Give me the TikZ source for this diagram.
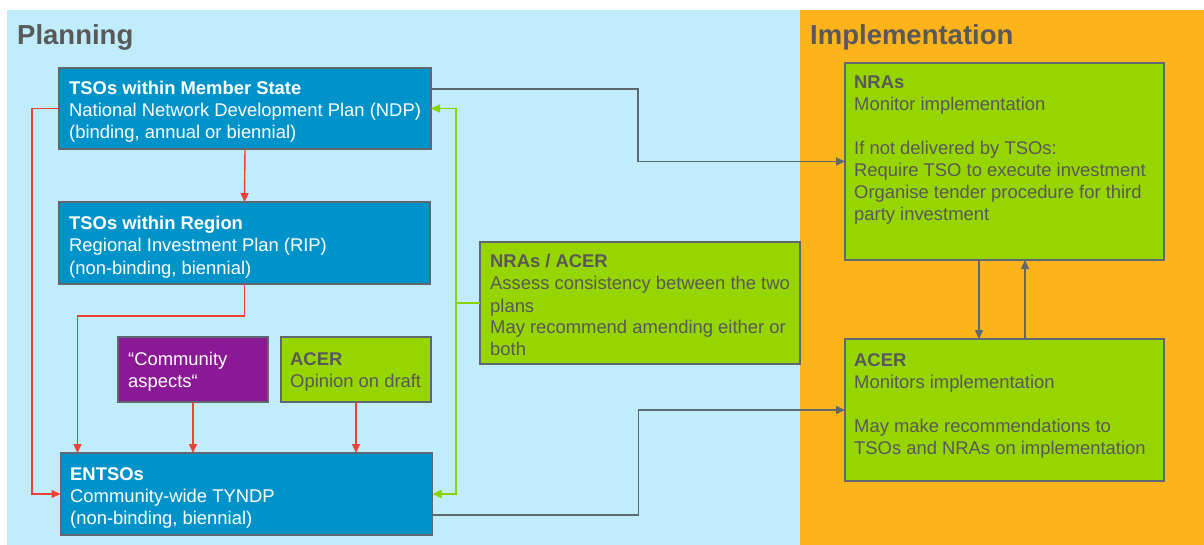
\documentclass[tikz,border=0pt]{standalone}
\usepackage{fontspec}
\setmainfont{Liberation Sans}
\usetikzlibrary{arrows.meta,calc}
\definecolor{bgblue}{HTML}{C0ECFC}
\definecolor{bgorange}{HTML}{FDB41B}
\definecolor{boxblue}{HTML}{0093C9}
\definecolor{boxgreen}{HTML}{96D500}
\definecolor{boxpurple}{HTML}{8B1996}
\definecolor{linered}{HTML}{EE4035}
\definecolor{linegreen}{HTML}{8CD200}
\definecolor{linegray}{HTML}{5E6870}
\definecolor{txtgray}{HTML}{595959}
\definecolor{bordergray}{HTML}{5F6770}
\newcommand{\boxtxt}[1]{\parbox[t]{400pt}{\raggedright #1}}
\begin{document}
\begin{tikzpicture}[x=1pt,y=-1pt,
  panel/.style={draw=bordergray, line width=1.5pt, inner sep=0pt, outer sep=0pt, rectangle},
  bluebox/.style={panel, fill=boxblue},
  greenbox/.style={panel, fill=boxgreen},
  purplebox/.style={panel, fill=boxpurple},
  txt/.style={anchor=base west, inner sep=0pt, font=\fontsize{18.4}{22}\selectfont},
  txtw/.style={txt, text=white},
  txtg/.style={txt, text=txtgray},
  title/.style={anchor=base west, inner sep=0pt, text=txtgray, font=\fontsize{27.5}{32}\selectfont\bfseries},
  redarr/.style={draw=linered, line width=1.4pt, -{Triangle[length=9pt,width=8pt]}},
  greenarr/.style={draw=linegreen, line width=1.6pt, -{Triangle[length=9pt,width=8pt]}},
  grayarr/.style={draw=linegray, line width=1.6pt, -{Triangle[length=9pt,width=8pt]}}
]
\useasboundingbox (0,0) rectangle (1204,545);
\fill[white] (0,0) rectangle (1204,545);
\fill[bgblue] (7,10) rectangle (800,545);
\fill[bgorange] (800,10) rectangle (1204,545);

\node[title] (tplan) at (17,45) {Planning};
\node[title] (timpl) at (810,45) {Implementation};

% boxes
\node[bluebox, minimum width=372pt, minimum height=81pt] (ms) at (245,108.5) {};
\node[bluebox, minimum width=371pt, minimum height=82pt] (reg) at (244.5,243) {};
\node[bluebox, minimum width=372pt, minimum height=82pt] (ent) at (246.5,494) {};
\node[purplebox, minimum width=150pt, minimum height=65pt] (ca) at (193,369.5) {};
\node[greenbox, minimum width=150pt, minimum height=65pt] (aop) at (356,369.5) {};
\node[greenbox, minimum width=320pt, minimum height=122pt] (nra) at (640,303) {};
\node[greenbox, minimum width=319pt, minimum height=197pt] (impl) at (1004.5,161.5) {};
\node[greenbox, minimum width=319pt, minimum height=142pt] (acer) at (1004.5,410) {};

% texts
\node[txtw] (msT) at (69,95) {\boxtxt{\textbf{TSOs within Member State}\\National Network Development Plan (NDP)\\(binding, annual or biennial)}};
\node[txtw] (regT) at (69,230) {\boxtxt{\textbf{TSOs within Region}\\Regional Investment Plan (RIP)\\(non-binding, biennial)}};
\node[txtw] (entT) at (70,480) {\boxtxt{\textbf{ENTSOs}\\Community-wide TYNDP\\(non-binding, biennial)}};
\node[txtw] (caT) at (128,365) {\boxtxt{“Community\\aspects“}};
\node[txtg] (aopT) at (290,365) {\boxtxt{\textbf{ACER}\\Opinion on draft}};
\node[txtg] (nraT) at (490,268) {\boxtxt{\textbf{NRAs / ACER}\\Assess consistency between the two\\plans\\May recommend amending either or\\both}};
\node[txtg] (implT) at (854,89) {\boxtxt{\textbf{NRAs}\\Monitor implementation\\[22pt]If not delivered by TSOs:\\Require TSO to execute investment\\Organise tender procedure for third\\party investment}};
\node[txtg] (acerT) at (854,366) {\boxtxt{\textbf{ACER}\\Monitors implementation\\[22pt]May make recommendations to\\TSOs and NRAs on implementation}};

% red connectors
\draw[redarr] (ms.west) -- ++(-27,0) |- (ent.west);
\draw[redarr] (ms.south) -- (reg.north);
\draw[redarr] (reg.south) -- ++(0,32) -| ([xshift=17pt]ent.north west);
\draw[redarr] (ca.south) -- (ca.south |- ent.north);
\draw[redarr] (aop.south) -- (aop.south |- ent.north);

% green connectors
\draw[greenarr] (nra.west) -- ++(-24,0) |- (ms.east);
\draw[greenarr] (nra.west) -- ++(-24,0) |- (ent.east);

% gray connectors
\draw[grayarr] ([yshift=19.5pt]ms.east) -- ++(207,0) |- (impl.west);
\draw[grayarr] ([yshift=-21pt]ent.east) -- ++(206,0) |- (acer.west);
\draw[grayarr] ([xshift=-25.5pt]impl.south) -- ([xshift=-25.5pt]acer.north);
\draw[grayarr] ([xshift=20.5pt]acer.north) -- ([xshift=20.5pt]impl.south);
\end{tikzpicture}
\end{document}
